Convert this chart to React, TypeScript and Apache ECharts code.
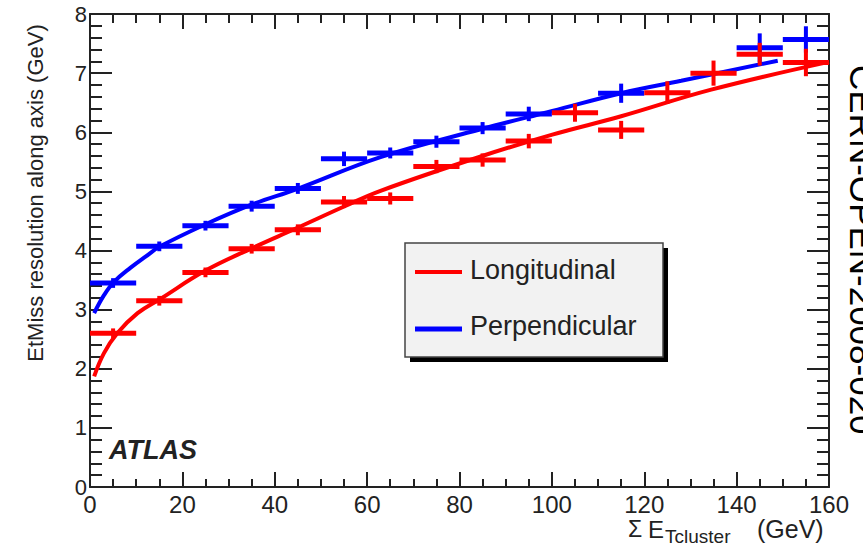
import React, { useEffect, useRef } from "react";
import * as echarts from "echarts";

// ---- data ----
const binCenters = [5, 15, 25, 35, 45, 55, 65, 75, 85, 95, 105, 115, 125, 135, 145, 155];
const binHalfWidth = 5;
const longitudinalValues = [2.6, 3.15, 3.63, 4.03, 4.35, 4.82, 4.88, 5.42, 5.53, 5.85, 6.33, 6.04, 6.67, 7.0, 7.32, 7.18];
const longitudinalErrors = [0.04, 0.04, 0.04, 0.04, 0.05, 0.06, 0.06, 0.07, 0.07, 0.08, 0.11, 0.11, 0.15, 0.17, 0.15, 0.19];
const perpendicularValues = [3.45, 4.07, 4.42, 4.75, 5.05, 5.55, 5.65, 5.84, 6.07, 6.31, null, 6.66, null, null, 7.43, 7.57];
const perpendicularErrors = [0.04, 0.04, 0.04, 0.05, 0.05, 0.08, 0.05, 0.06, 0.06, 0.08, null, 0.12, null, null, 0.2, 0.18];

// fitted curves
const longFitX = [0.9, 3, 5.9, 10.3, 15.2, 25, 35.1, 44.8, 54.9, 62.9, 84.6, 100.1, 115, 134.5, 160];
const longFitY = [1.87, 2.26, 2.6, 2.94, 3.18, 3.66, 4.04, 4.38, 4.74, 5.01, 5.59, 5.96, 6.27, 6.72, 7.19];
const perpFitX = [0.9, 3, 5.2, 8.8, 12.1, 15.2, 24.9, 35.1, 44.8, 62.9, 84.6, 100.1, 115, 128, 148.9];
const perpFitY = [2.94, 3.24, 3.47, 3.71, 3.9, 4.07, 4.44, 4.78, 5.04, 5.58, 6.05, 6.36, 6.66, 6.87, 7.21];

const xTicks = { min: 0, max: 160, interval: 20 };
const yTicks = { min: 0, max: 8, interval: 1 };

const legendNames = ["Longitudinal", "Perpendicular"];
const yTitle = "EtMiss resolution along axis (GeV)";
const sideNote = "CERN-OPEN-2008-020";

const RED = "#ff0000";
const BLUE = "#0000ff";
const INK = "#222222";
const FONT = "'Liberation Sans', Arial, Helvetica, sans-serif";

function points(values: (number | null)[], errors: (number | null)[]) {
  const out: number[][] = [];
  values.forEach((v, i) => {
    if (v !== null && errors[i] !== null) out.push([binCenters[i], v, errors[i] as number]);
  });
  return out;
}

function errorSeries(name: string, data: number[][], color: string, z: number) {
  return {
    type: "custom",
    name,
    z,
    xAxisIndex: 0,
    yAxisIndex: 0,
    data,
    renderItem: (params: any, api: any) => {
      const x = api.value(0);
      const y = api.value(1);
      const e = api.value(2);
      const l = api.coord([x - binHalfWidth, y]);
      const r = api.coord([x + binHalfWidth, y]);
      const t = api.coord([x, y + e]);
      const b = api.coord([x, y - e]);
      return {
        type: "group",
        children: [
          { type: "line", shape: { x1: l[0], y1: l[1], x2: r[0], y2: r[1] }, style: { stroke: color, lineWidth: 5 } },
          { type: "line", shape: { x1: t[0], y1: t[1] - 2.5, x2: b[0], y2: b[1] + 2.5 }, style: { stroke: color, lineWidth: 4 } },
        ],
      };
    },
  };
}

function makeXAxis(position: "bottom" | "top", showLabels: boolean, majorLen: number, minorLen: number) {
  return {
    type: "value",
    position,
    min: xTicks.min,
    max: xTicks.max,
    interval: xTicks.interval,
    axisLine: { show: true, onZero: false, lineStyle: { color: INK, width: 2 } },
    axisTick: { show: true, inside: true, length: majorLen, lineStyle: { color: INK, width: 2 } },
    minorTick: { show: true, splitNumber: 4, length: minorLen, lineStyle: { color: INK, width: 2 } },
    splitLine: { show: false },
    minorSplitLine: { show: false },
    axisLabel: { show: showLabels, fontSize: 24, fontFamily: FONT, color: INK, margin: 5 },
  };
}

function makeYAxis(position: "left" | "right", showLabels: boolean) {
  return {
    type: "value",
    position,
    min: yTicks.min,
    max: yTicks.max,
    interval: yTicks.interval,
    axisLine: { show: true, onZero: false, lineStyle: { color: INK, width: 2 } },
    axisTick: { show: true, inside: true, length: 22, lineStyle: { color: INK, width: 2 } },
    minorTick: { show: true, splitNumber: 5, length: 12, lineStyle: { color: INK, width: 2 } },
    splitLine: { show: false },
    minorSplitLine: { show: false },
    axisLabel: { show: showLabels, fontSize: 22, fontFamily: FONT, color: INK, margin: 3 },
  };
}

export default function App() {
  const ref = useRef<HTMLDivElement>(null);

  useEffect(() => {
    if (!ref.current) return;
    const chart = echarts.init(ref.current, undefined, { renderer: "svg" });

    const legendX = 405;
    const legendY = 243;
    const legendW = 258;
    const legendH = 114;

    const option: any = {
      animation: false,
      backgroundColor: "#ffffff",
      grid: { left: 90, top: 14, width: 739, height: 473, containLabel: false },
      xAxis: [makeXAxis("bottom", true, 15, 8), makeXAxis("top", false, 15, 9)],
      yAxis: [makeYAxis("left", true), makeYAxis("right", false)],
      series: [
        {
          type: "line",
          name: legendNames[1] + " fit",
          data: perpFitX.map((x, i) => [x, perpFitY[i]]),
          smooth: 0.4,
          showSymbol: false,
          lineStyle: { color: BLUE, width: 4 },
          z: 2,
        },
        {
          type: "line",
          name: legendNames[0] + " fit",
          data: longFitX.map((x, i) => [x, longFitY[i]]),
          smooth: 0.4,
          showSymbol: false,
          lineStyle: { color: RED, width: 4 },
          z: 2,
        },
        errorSeries(legendNames[1], points(perpendicularValues, perpendicularErrors), BLUE, 3),
        errorSeries(legendNames[0], points(longitudinalValues, longitudinalErrors), RED, 4),
      ],
      graphic: [
        // y axis title
        {
          type: "text",
          x: 35,
          y: 193,
          rotation: Math.PI / 2,
          style: { text: yTitle, font: `22px ${FONT}`, fill: INK, align: "center", verticalAlign: "middle" },
        },
        // x axis title
        {
          type: "text",
          x: 628,
          y: 529,
          style: { text: "Σ", font: `23px ${FONT}`, fill: INK, align: "left", verticalAlign: "middle" },
        },
        {
          type: "text",
          x: 648,
          y: 529,
          style: { text: "E", font: `24px ${FONT}`, fill: INK, align: "left", verticalAlign: "middle" },
        },
        {
          type: "text",
          x: 665,
          y: 536,
          style: { text: "Tcluster", font: `19px ${FONT}`, fill: INK, align: "left", verticalAlign: "middle" },
        },
        {
          type: "text",
          x: 757,
          y: 529,
          style: { text: "(GeV)", font: `25px ${FONT}`, fill: INK, align: "left", verticalAlign: "middle" },
        },
        // ATLAS label
        {
          type: "text",
          x: 109,
          y: 450,
          style: { text: "ATLAS", font: `italic bold 27px ${FONT}`, fill: INK, align: "left", verticalAlign: "middle" },
        },
        // side note, clipped at the right edge as in the reference
        {
          type: "text",
          x: 862,
          y: 65,
          rotation: -Math.PI / 2,
          style: { text: sideNote, font: `35px ${FONT}`, fill: "#000", align: "left", verticalAlign: "middle" },
        },
        // legend box with shadow
        {
          type: "rect",
          shape: { x: legendX + 5, y: legendY + 5, width: legendW, height: legendH },
          style: { fill: "#000" },
          z: 10,
        },
        {
          type: "rect",
          shape: { x: legendX, y: legendY, width: legendW, height: legendH },
          style: { fill: "#f2f2f2", stroke: "#444", lineWidth: 1.5 },
          z: 11,
        },
        {
          type: "line",
          shape: { x1: 415, y1: 272, x2: 462, y2: 272 },
          style: { stroke: RED, lineWidth: 4 },
          z: 12,
        },
        {
          type: "line",
          shape: { x1: 415, y1: 329, x2: 462, y2: 329 },
          style: { stroke: BLUE, lineWidth: 5 },
          z: 12,
        },
        {
          type: "text",
          x: 470,
          y: 270,
          z: 12,
          style: { text: legendNames[0], font: `27px ${FONT}`, fill: INK, align: "left", verticalAlign: "middle" },
        },
        {
          type: "text",
          x: 470,
          y: 326,
          z: 12,
          style: { text: legendNames[1], font: `27px ${FONT}`, fill: INK, align: "left", verticalAlign: "middle" },
        },
      ],
    };

    chart.setOption(option);
    return () => chart.dispose();
  }, []);

  return <div ref={ref} style={{ position: "absolute", left: 0, top: 0, width: 863, height: 550 }} />;
}
